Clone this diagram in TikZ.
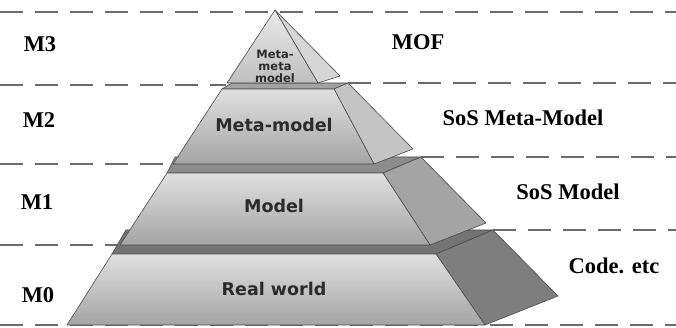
\documentclass[tikz,border=0pt]{standalone}
\usepackage{fontspec}
\setmainfont{Liberation Serif}
\newfontfamily\blockfont{DejaVu Sans}

\definecolor{levelgray}{HTML}{6B6B6B}
\definecolor{edgegray}{HTML}{4A4A4A}
\definecolor{frontlight}{HTML}{E0E0E0}
\definecolor{frontdark}{HTML}{A4A4A4}
\definecolor{textgray}{HTML}{2B2B2B}

\begin{document}
\begin{tikzpicture}[x=1pt, y=-1pt,
  levelline/.style={levelgray, line width=2pt, dash pattern=on 23pt off 12pt},
  face/.style={draw=edgegray, line width=0.6pt, line join=round},
  frontface/.style={face, top color=frontlight, bottom color=frontdark},
  levelname/.style={font=\bfseries\fontsize{22.5}{24}\selectfont, anchor=base, inner sep=0pt},
  blockname/.style={font=\blockfont\bfseries\fontsize{17.5}{20}\selectfont, text=textgray, anchor=base, inner sep=0pt}]

\useasboundingbox (0,0) rectangle (676,328);

% level lines
\draw[levelline]  (0,12) -- (676,12);
\draw[levelline]  (0,85) -- (226,85);
\draw[levelline]  (348,83) -- (676,83);
\draw[levelline]  (0,164) -- (173,164);
\draw[levelline]  (421,157) -- (676,157);
\draw[levelline]  (0,245) -- (120,245);
\draw[levelline]  (493,230) -- (676,230);
\draw[levelline]  (0,325) -- (676,325);

% M0 block
\draw[face, fill={rgb,255:red,116;green,116;blue,116}]  (112,254) -- (436,254) -- (493,230) -- (126,230) -- cycle;
\draw[face, fill={rgb,255:red,126;green,126;blue,126}]  (436,254) -- (493,230) -- (558,296) -- (485,325) -- cycle;
\draw[frontface]  (112,254) -- (436,254) -- (485,325) -- (67,325) -- cycle;

% M1 block
\draw[face, fill={rgb,255:red,140;green,140;blue,140}]  (167,173) -- (383,173) -- (421,157) -- (175,157) -- cycle;
\draw[face, fill={rgb,255:red,164;green,164;blue,164}]  (383,173) -- (421,157) -- (486,223) -- (430,245) -- cycle;
\draw[frontface]  (167,173) -- (383,173) -- (430,245) -- (120,245) -- cycle;

% M2 block
\draw[face, fill={rgb,255:red,162;green,162;blue,162}]  (222,89) -- (334,89) -- (348,83) -- (232,83) -- cycle;
\draw[face, fill={rgb,255:red,196;green,196;blue,196}]  (334,89) -- (348,83) -- (413,149) -- (374,164) -- cycle;
\draw[frontface]  (222,89) -- (334,89) -- (374,164) -- (173,164) -- cycle;

% M3 top
\draw[face, fill={rgb,255:red,214;green,214;blue,214}]  (275,10) -- (340,76) -- (318,83) -- cycle;
\draw[face, top color=frontlight!70!white, bottom color=frontlight!85!black]  (275,10) -- (227,83) -- (318,83) -- cycle;

% block texts
\node[blockname, anchor=center, align=center, font=\blockfont\bfseries\fontsize{11.5}{12}\selectfont]  (metameta)  at  (275,66) {Meta-\\meta\\model};
\node[blockname]  (metamodel)  at  (274,132) {Meta-model};
\node[blockname]  (model)  at  (274,213) {Model};
\node[blockname]  (realworld)  at  (274,295) {Real world};

% level names
\node[levelname]  (m3)  at  (40,52) {M3};
\node[levelname]  (m2)  at  (39,128) {M2};
\node[levelname]  (m1)  at  (37,210) {M1};
\node[levelname]  (m0)  at  (38,302) {M0};

\node[levelname]  (mof)  at  (418,50) {MOF};
\node[levelname]  (sosmeta)  at  (523,126) {SoS Meta-Model};
\node[levelname]  (sosmodel)  at  (568,200) {SoS Model};
\node[levelname]  (code)  at  (614,273) {Code. etc};
\end{tikzpicture}
\end{document}
